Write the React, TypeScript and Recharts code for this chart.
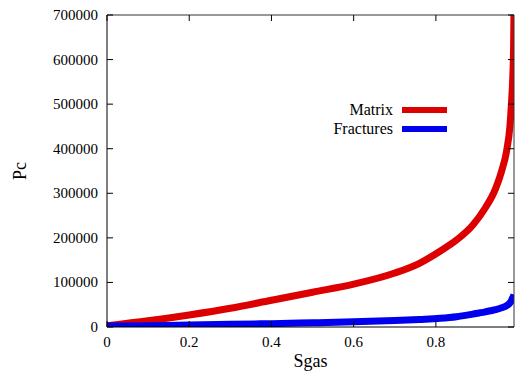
import { LineChart, Line, XAxis, YAxis } from "recharts";

// Capillary pressure curves vs. gas saturation
const sgas = [0, 0.1, 0.2, 0.3, 0.4, 0.5, 0.6, 0.7, 0.76, 0.81, 0.85, 0.89, 0.92, 0.945, 0.96, 0.972, 0.98, 0.984, 0.987, 0.989, 0.99];
const matrixPc = [3000, 14000, 27000, 42000, 60000, 78000, 96000, 121000, 143000, 170000, 195000, 229000, 267000, 310000, 350000, 395000, 450000, 505000, 560000, 630000, 710000];
const fracturesPc = [2000, 3000, 4500, 6000, 7500, 9500, 11500, 14500, 17000, 19500, 23000, 29000, 34000, 39000, 43000, 48000, 54000, 60000, 66000, 70000, 73000];

const xTicks = [0, 0.2, 0.4, 0.6, 0.8];
const yTicks = [0, 100000, 200000, 300000, 400000, 500000, 600000, 700000];

const series = [
  { key: "matrix", name: "Matrix", color: "#dd0000" },
  { key: "fractures", name: "Fractures", color: "#0000ee" },
];

const data = sgas.map((s, i) => ({
  sgas: s,
  matrix: matrixPc[i],
  fractures: fracturesPc[i],
}));

const FONT = '"Liberation Serif", "DejaVu Serif", serif';
const tickText = { fontFamily: FONT, fontSize: 15 };

// gnuplot-style ticks: marks point into the plot, labels sit outside
function BottomTick({ x, y, payload }: any) {
  return (
    <g>
      <line x1={x} y1={y} x2={x} y2={y - 6} stroke="#000" />
      <text x={x} y={y + 20} textAnchor="middle" style={tickText} fill="#000">
        {String(payload.value)}
      </text>
    </g>
  );
}

function LeftTick({ x, y, payload }: any) {
  return (
    <g>
      <line x1={x} y1={y} x2={x + 6} y2={y} stroke="#000" />
      <text x={x - 9} y={y} dy="0.33em" textAnchor="end" style={tickText} fill="#000">
        {String(payload.value)}
      </text>
    </g>
  );
}

function TopTick({ x, y }: any) {
  return <line x1={x} y1={y} x2={x} y2={y + 6} stroke="#000" />;
}

function RightTick({ x, y }: any) {
  return <line x1={x} y1={y} x2={x - 6} y2={y} stroke="#000" />;
}

function YTitle({ viewBox }: any) {
  const cx = viewBox.x + 20;
  const cy = viewBox.y + viewBox.height / 2;
  return (
    <text x={cx} y={cy} dy="0.33em" textAnchor="middle" transform={`rotate(-90 ${cx} ${cy})`}
      style={{ fontFamily: FONT, fontSize: 18 }} fill="#000">
      Pc
    </text>
  );
}

function XTitle({ viewBox }: any) {
  return (
    <text x={viewBox.x + viewBox.width / 2} y={viewBox.y + 40} textAnchor="middle"
      style={{ fontFamily: FONT, fontSize: 18 }} fill="#000">
      Sgas
    </text>
  );
}

// key drawn inside the plot, gnuplot style: right-aligned names followed by a line sample
function KeyBox() {
  return (
    <div style={{ position: "absolute", left: 250, top: 101, width: 197, fontFamily: FONT, fontSize: 16, color: "#000" }}>
      {series.map((s) => (
        <div key={s.key} style={{ display: "flex", justifyContent: "flex-end", alignItems: "center", height: 18.5 }}>
          <span style={{ lineHeight: "18.5px" }}>{s.name}</span>
          <span style={{ display: "inline-block", width: 45, height: 6, marginLeft: 9, backgroundColor: s.color }} />
        </div>
      ))}
    </div>
  );
}

export default function App() {
  return (
    <div style={{ position: "absolute", left: 0, top: 0, width: 515, height: 374, background: "#fff" }}>
      <LineChart width={515} height={374} data={data} margin={{ top: 14, right: 0, bottom: 0, left: 0 }}>
        <XAxis
          dataKey="sgas"
          type="number"
          domain={[0, 0.99]}
          allowDataOverflow
          ticks={xTicks}
          height={47}
          tickSize={0}
          tickMargin={0}
          tick={<BottomTick />}
          axisLine={{ stroke: "#000" }}
          label={<XTitle />}
        />
        {/* mirror axes give the closed frame with inward ticks on top and right */}
        <XAxis
          xAxisId="top"
          orientation="top"
          dataKey="sgas"
          type="number"
          domain={[0, 0.99]}
          allowDataOverflow
          ticks={xTicks}
          height={1}
          tickSize={0}
          tickMargin={0}
          tick={<TopTick />}
          axisLine={{ stroke: "#333" }}
        />
        <YAxis
          type="number"
          domain={[0, 700000]}
          allowDataOverflow
          ticks={yTicks}
          width={107}
          tickSize={0}
          tickMargin={0}
          tick={<LeftTick />}
          axisLine={{ stroke: "#000" }}
          label={<YTitle />}
        />
        <YAxis
          yAxisId="right"
          orientation="right"
          type="number"
          domain={[0, 700000]}
          allowDataOverflow
          ticks={yTicks}
          width={1}
          tickSize={0}
          tickMargin={0}
          tick={<RightTick />}
          axisLine={{ stroke: "#333" }}
        />
        {/* invisible copy bound to the mirror axes so they get a scale */}
        <Line
          dataKey="matrix"
          xAxisId="top"
          yAxisId="right"
          stroke="none"
          dot={false}
          legendType="none"
          isAnimationActive={false}
        />
        {series.map((s) => (
          <Line
            key={s.key}
            dataKey={s.key}
            name={s.name}
            type="monotone"
            stroke={s.color}
            strokeWidth={7}
            dot={false}
            isAnimationActive={false}
          />
        ))}
      </LineChart>
      <KeyBox />
    </div>
  );
}
